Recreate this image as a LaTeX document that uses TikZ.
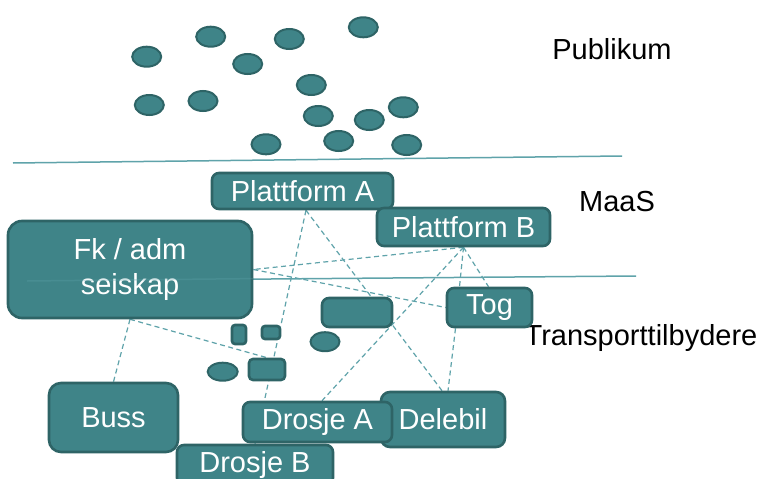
\documentclass[tikz,border=0pt]{standalone}
\usepackage{fontspec}
\setmainfont{Liberation Sans}
\usetikzlibrary{shapes.geometric,backgrounds}
\definecolor{tealfill}{HTML}{3F8488}
\definecolor{tealedge}{HTML}{2E6466}
\definecolor{tealline}{HTML}{5FA3AA}
\tikzset{
  box/.style={draw=tealedge, fill=tealfill, line width=2.6pt, rounded corners=#1,
    text=white, inner sep=0pt, font=\fontsize{29}{35}\selectfont, align=center},
  box/.default=7pt,
  blob/.style={ellipse, draw=tealedge, fill=tealfill, line width=2pt, inner sep=0pt,
    minimum width=29pt, minimum height=20pt},
  link/.style={draw=tealline, line width=1.2pt, dash pattern=on 5pt off 3.5pt},
  divider/.style={draw=tealline, line width=1.5pt},
  tier/.style={font=\fontsize{29}{35}\selectfont, text=black, inner sep=0pt}
}
\begin{document}
\begin{tikzpicture}[x=1pt,y=-1pt]
\useasboundingbox (0,0) rectangle (760,479);

% the public
\foreach \x/\y [count=\i] in {146.7/56.7, 210.7/36.7, 289.3/39, 363.3/27.3, 247.7/64,
    311.3/85, 149.3/105, 203/101, 318.3/116, 369.3/120, 403.3/107.3, 266/144.3,
    338.7/141, 406.7/145}
  \node[blob] (p\i) at (\x,\y) {};

% tier labels
\node[tier] (lpub) at (612,49) {Publikum};
\node[tier] (lmaas) at (617,202) {MaaS};
\node[tier] (ltrans) at (641,338) {Transporttilbydere};

% actors
\path
  (302.5,191)  node[box, minimum width=181pt, minimum height=36pt] (pa) {Plattform A}
  (463.5,227)  node[box, minimum width=173pt, minimum height=38pt] (pb) {Plattform B}
  (130,269.5)  node[box=14pt, minimum width=244pt, minimum height=97pt] (fk) {Fk / adm\\seiskap}
  (489.5,307.5) node[box, minimum width=85pt, minimum height=39pt] (tog) {Tog}
  (357,312.5)  node[box, minimum width=70pt, minimum height=29pt] (r1) {}
  (239,334.5)  node[box=3pt, minimum width=14pt, minimum height=19pt] (r2) {}
  (271,332.5)  node[box=3pt, minimum width=18pt, minimum height=13pt] (r3) {}
  (267,369.5)  node[box=4pt, minimum width=36pt, minimum height=21pt] (r4) {}
  (113.5,417.5) node[box=12pt, minimum width=129pt, minimum height=69pt] (buss) {Buss}
  (443,419.5)  node[box=9pt, minimum width=124pt, minimum height=55pt] (deleb) {Delebil}
  (317.5,422)  node[box, minimum width=149pt, minimum height=40pt] (dra) {Drosje A}
  (255,465)    node[box, minimum width=156pt, minimum height=40pt] (drb) {Drosje B};

% small operators without a name
\node[blob, minimum width=29pt, minimum height=19pt] (e1) at (325,341.7) {};
\node[blob, minimum width=30pt, minimum height=18pt] (e2) at (222.7,371.7) {};

% dividers between the tiers
\coordinate (d1a) at (13,163);  \coordinate (d1b) at (622,156);
\coordinate (d2a) at (27,281);  \coordinate (d2b) at (636,276);
\draw[divider, draw opacity=0.3] (d2a) -- (fk.east |- 0,278.6);

\begin{scope}[on background layer]
  \fill[white] (0,0) rectangle (760,479);
  \draw[divider] (d1a) -- (d1b);
  \draw[divider] (d2a) -- (d2b);
  % dashed relations between the actors
  \draw[link] ([xshift=3.5pt]pa.south) -- (drb.north);
  \draw[link] ([xshift=3.5pt]pa.south) -- ([xshift=-1pt]deleb.north);
  \draw[link] (pb.south) -- (fk.east);
  \draw[link] (pb.south) -- ([xshift=-30pt]tog.north);
  \draw[link] (pb.south) -- ([xshift=-1pt]tog.north);
  \draw[link] (pb.south) -- ([xshift=4.5pt]dra.north);
  \draw[link] (fk.east) -- (tog.west);
  \draw[link] (fk.south) -- (buss.north);
  \draw[link] (fk.south) -- (r4.north);
  \draw[link] ([xshift=-34pt]tog.south) -- ([xshift=5pt]deleb.north);
\end{scope}
\end{tikzpicture}
\end{document}
